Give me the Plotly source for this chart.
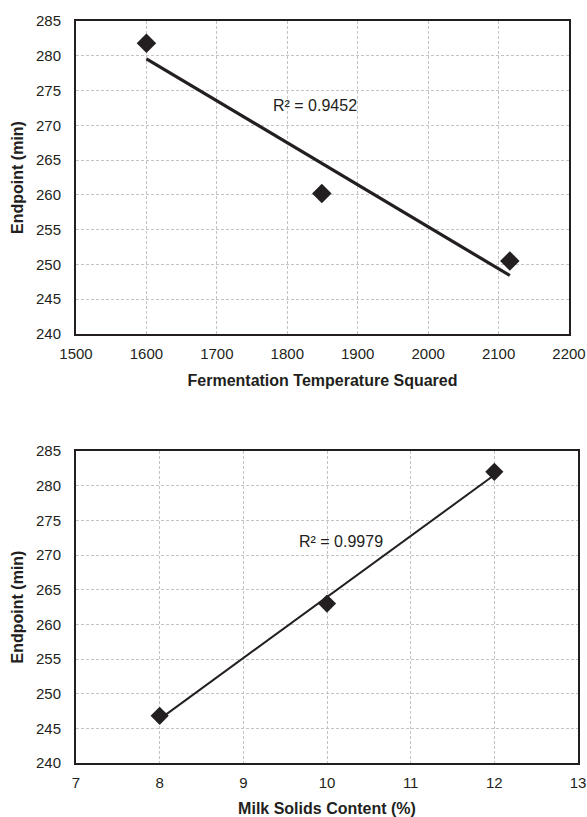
import numpy as np
import plotly.graph_objects as go

# Fermentation temperature (squared) vs endpoint
temp_sq = [1600, 1849, 2116]
endpoint_temp = [281.8, 260.2, 250.5]
r2_temp = "R² = 0.9452"

# Milk solids content vs endpoint
solids = [8, 10, 12]
endpoint_solids = [246.8, 263.0, 282.0]
r2_solids = "R² = 0.9979"

y_ticks = [240, 245, 250, 255, 260, 265, 270, 275, 280, 285]
x_ticks_temp = [1500, 1600, 1700, 1800, 1900, 2000, 2100, 2200]
x_ticks_solids = [7, 8, 9, 10, 11, 12, 13]

INK = "#231f20"
GRID = "#c4c4c4"
FONT = "Liberation Sans, Arial, sans-serif"


def trend(x, y):
    slope, intercept = np.polyfit(x, y, 1)
    xs = np.array([min(x), max(x)], dtype=float)
    return xs, slope * xs + intercept


fig = go.Figure()

tx, ty = trend(temp_sq, endpoint_temp)
fig.add_trace(go.Scatter(x=tx, y=ty, mode="lines", line=dict(color=INK, width=3.2),
                         xaxis="x", yaxis="y", hoverinfo="skip"))
fig.add_trace(go.Scatter(x=temp_sq, y=endpoint_temp, mode="markers",
                         marker=dict(symbol="diamond", size=15, color=INK),
                         xaxis="x", yaxis="y"))

sx, sy = trend(solids, endpoint_solids)
fig.add_trace(go.Scatter(x=sx, y=sy, mode="lines", line=dict(color=INK, width=2),
                         xaxis="x2", yaxis="y2", hoverinfo="skip"))
fig.add_trace(go.Scatter(x=solids, y=endpoint_solids, mode="markers",
                         marker=dict(symbol="diamond", size=14, color=INK),
                         xaxis="x2", yaxis="y2"))

W, H = 587, 817


def px_x(p):
    return p / W


def px_y(p):
    return 1 - p / H


axis_common = dict(
    showline=True, mirror=True, linecolor=INK, linewidth=2,
    showgrid=True, gridcolor=GRID, gridwidth=1, griddash="3px,2px",
    zeroline=False, ticks="", tickfont=dict(family=FONT, size=15, color=INK),
    automargin=False,
)
title_font = dict(family=FONT, size=16, color=INK, weight="bold")

fig.update_layout(
    width=W, height=H,
    margin=dict(l=0, r=0, t=0, b=0),
    paper_bgcolor="white", plot_bgcolor="white",
    showlegend=False,
    font=dict(family=FONT, color=INK),
    xaxis=dict(axis_common, domain=[px_x(76), px_x(569)], range=[1500, 2200],
               tickvals=x_ticks_temp, anchor="y", ticklabelstandoff=5,
               title=dict(text="Fermentation Temperature Squared", font=title_font, standoff=14)),
    yaxis=dict(axis_common, domain=[px_y(334), px_y(21)], range=[240, 285],
               tickvals=y_ticks, anchor="x", ticklabelstandoff=10,
               title=dict(text="Endpoint (min)", font=title_font, standoff=8)),
    xaxis2=dict(axis_common, domain=[px_x(76), px_x(578)], range=[7, 13],
                tickvals=x_ticks_solids, anchor="y2", ticklabelstandoff=5,
                title=dict(text="Milk Solids Content (%)", font=title_font, standoff=15)),
    yaxis2=dict(axis_common, domain=[px_y(763), px_y(451)], range=[240, 285],
                tickvals=y_ticks, anchor="x2", ticklabelstandoff=10,
                title=dict(text="Endpoint (min)", font=title_font, standoff=8)),
    annotations=[
        dict(x=1839, y=272.8, xref="x", yref="y", text=r2_temp, showarrow=False,
             font=dict(family=FONT, size=16, color=INK)),
        dict(x=10.17, y=271.9, xref="x2", yref="y2", text=r2_solids, showarrow=False,
             font=dict(family=FONT, size=16, color=INK)),
    ],
)

fig.write_html("out.html")
